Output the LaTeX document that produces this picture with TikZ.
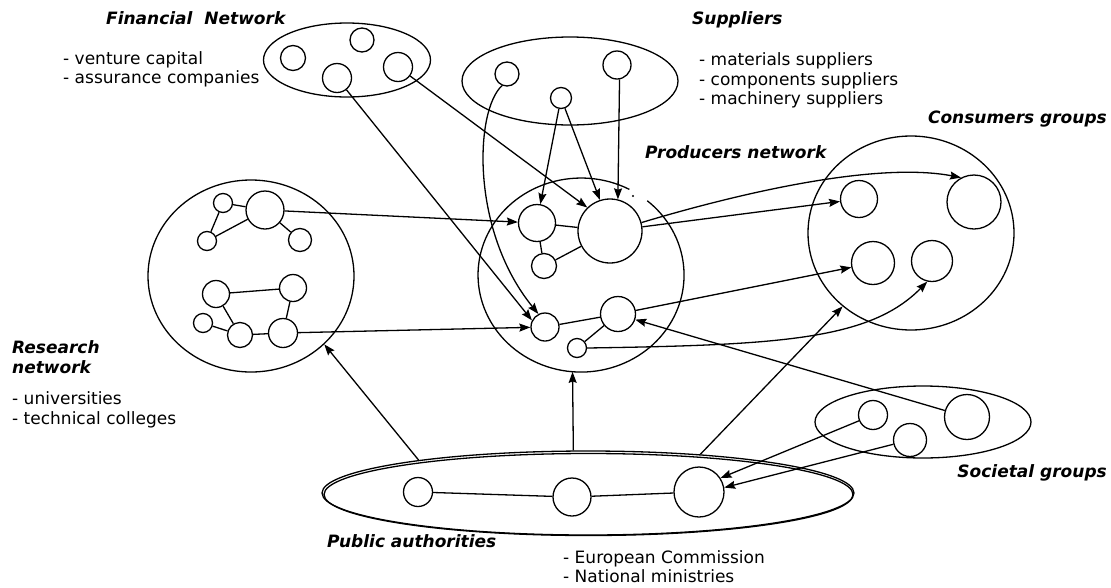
\documentclass[tikz,border=0pt]{standalone}
\usepackage{fontspec}
\setmainfont{DejaVu Sans}
\usetikzlibrary{shapes.geometric,arrows.meta}
\begin{document}
\begin{tikzpicture}[x=1pt,y=1pt,
  lw/.style={line width=1.3pt},
  dot/.style={circle,draw,line width=1.3pt,inner sep=0pt,minimum size=#1},
  grp/.style={ellipse,draw,line width=1.3pt,inner sep=0pt},
  link/.style={line width=1.3pt},
  arr/.style={line width=1.3pt,-{Stealth[length=11pt,width=8pt,inset=1.5pt]}},
  title/.style={font=\fontsize{17}{20}\selectfont\bfseries\itshape,inner sep=0pt},
  item/.style={font=\fontsize{17}{20}\selectfont,inner sep=0pt}
]
\useasboundingbox (0,0) rectangle (1111,-587);
\fill[white] (0,0) rectangle (1111,-587);

% Financial network
\node[grp,minimum width=167,minimum height=74] (fe) at (347,-60) {};
\node[dot=25] (f1) at (293,-58) {};
\node[dot=24] (f2) at (362,-40) {};
\node[dot=29] (f3) at (337,-78) {};
\node[dot=29] (f4) at (398,-67) {};

% Suppliers
\node[grp,minimum width=216,minimum height=88] (se) at (570,-81) {};
\node[dot=24] (s1) at (507,-74) {};
\node[dot=28] (s2) at (617,-65) {};
\node[dot=21] (s3) at (561,-98) {};

% Producers network
\node[ellipse,inner sep=0pt,minimum width=206,minimum height=194] (pn) at (581,-275) {};
\draw[lw] (629.4,-189.4) arc[start angle=62,end angle=410,x radius=103,y radius=97];
\fill (633,-196) circle (1.2);
\node[dot=37] (p1) at (537,-223) {};
\node[dot=64] (p2) at (610,-231) {};
\node[dot=25] (p3) at (544,-266) {};
\node[dot=35] (p4) at (618,-314) {};
\node[dot=28] (p5) at (545,-327) {};
\node[dot=19] (p6) at (577,-348) {};
\draw[link] (p1) -- (p2);
\draw[link] (p3) -- (p1);
\draw[link] (p3) -- (p2);
\draw[link] (p5) -- (p4);
\draw[link] (p6) -- (p4);

% Research network
\node[grp,minimum width=206,minimum height=192] (rn) at (251,-276) {};
\node[dot=19] (r1) at (223,-203) {};
\node[dot=38] (r2) at (265,-210) {};
\node[dot=19] (r3) at (207,-241) {};
\node[dot=23] (r4) at (300,-240) {};
\node[dot=27] (r5) at (216,-294) {};
\node[dot=27] (r6) at (293,-288) {};
\node[dot=19] (r7) at (203,-323) {};
\node[dot=25] (r8) at (240,-335) {};
\node[dot=29] (r9) at (283,-333) {};
\draw[link] (r1) -- (r2);
\draw[link] (r1) -- (r3);
\draw[link] (r3) -- (r2);
\draw[link] (r2) -- (r4);
\draw[link] (r5) -- (r6);
\draw[link] (r5) -- (r8);
\draw[link] (r7) -- (r8);
\draw[link] (r8) -- (r9);
\draw[link] (r9) -- (r6);

% Consumers groups
\node[grp,minimum width=206,minimum height=194] (cn) at (911,-233) {};
\node[dot=37] (c1) at (859,-199) {};
\node[dot=54] (c2) at (974,-202) {};
\node[dot=43] (c3) at (873,-263) {};
\node[dot=41] (c4) at (932,-261) {};

% Societal groups
\node[grp,minimum width=216,minimum height=72] (sg) at (923,-422) {};
\node[dot=29] (g1) at (873,-415) {};
\node[dot=45] (g2) at (967,-417) {};
\node[dot=33] (g3) at (910,-440) {};

% Public authorities
\node[grp,minimum width=532,minimum height=84] (pa) at (588,-493) {};
\draw[lw] (588.5,-494.5) ellipse [x radius=264.5, y radius=41];
\node[dot=29] (a1) at (418,-492) {};
\node[dot=38] (a2) at (572,-497) {};
\node[dot=50] (a3) at (699,-492) {};
\draw[link] (a1) -- (a2);
\draw[link] (a2) -- (a3);

% Labels
\node[title,anchor=base west] (tfin) at (106,-24) {Financial\ \ Network};
\node[item,anchor=base west] (lfin1) at (63,-64) {- venture capital};
\node[item,anchor=base west] (lfin2) at (63,-83) {- assurance companies};
\node[title,anchor=base west] (tsup) at (692,-24) {Suppliers};
\node[item,anchor=base west] (lsup1) at (699,-65) {- materials suppliers};
\node[item,anchor=base west] (lsup2) at (699,-85) {- components suppliers};
\node[item,anchor=base west] (lsup3) at (699,-104) {- machinery suppliers};
\node[title,anchor=base west] (tpro) at (645,-158) {Producers network};
\node[title,anchor=base east] (tcon) at (1107,-123) {Consumers groups};
\node[title,anchor=base west] (tres1) at (12,-353) {Research};
\node[title,anchor=base west] (tres2) at (12,-373) {network};
\node[item,anchor=base west] (lres1) at (12,-404) {- universities};
\node[item,anchor=base west] (lres2) at (12,-424) {- technical colleges};
\node[title,anchor=base west] (tpub) at (327,-547) {Public authorities};
\node[item,anchor=base west] (lpub1) at (563,-563) {- European Commission};
\node[item,anchor=base west] (lpub2) at (563,-582) {- National ministries};
\node[title,anchor=base east] (tsoc) at (1107,-477) {Societal groups};

% Connectors
\draw[arr] (f3) -- (p5.153);
\draw[arr] (f4) -- (p2.134);
\draw[arr] (s3) -- (p1.80);
\draw[arr] (s3) -- (p2.108);
\draw[arr] (s2.-80) -- (p2.76);
\draw[arr] (s1.-113) .. controls (475,-110) and (470,-230) .. (p5.117);
\draw[arr] (r2) -- (p1);
\draw[arr] (r9) -- (p5);
\draw[arr] (p2.15) .. controls (750,-190) and (880,-162) .. (c2.118);
\draw[arr] (p2) -- (c1);
\draw[arr] (p4) -- (c3);
\draw[arr] (p6.0) .. controls (780,-345) and (870,-340) .. (c4.-103);
\draw[arr] (pa.169) -- (rn.-43);
\draw[arr] (pa.109) -- (pn.-95);
\draw[arr] (pa.19.6) -- (cn.-133);
\draw[arr] (g1) -- (a3.33);
\draw[arr] (g3) -- (a3.10);
\draw[arr] (g2) -- (p4.-18);
\end{tikzpicture}
\end{document}
